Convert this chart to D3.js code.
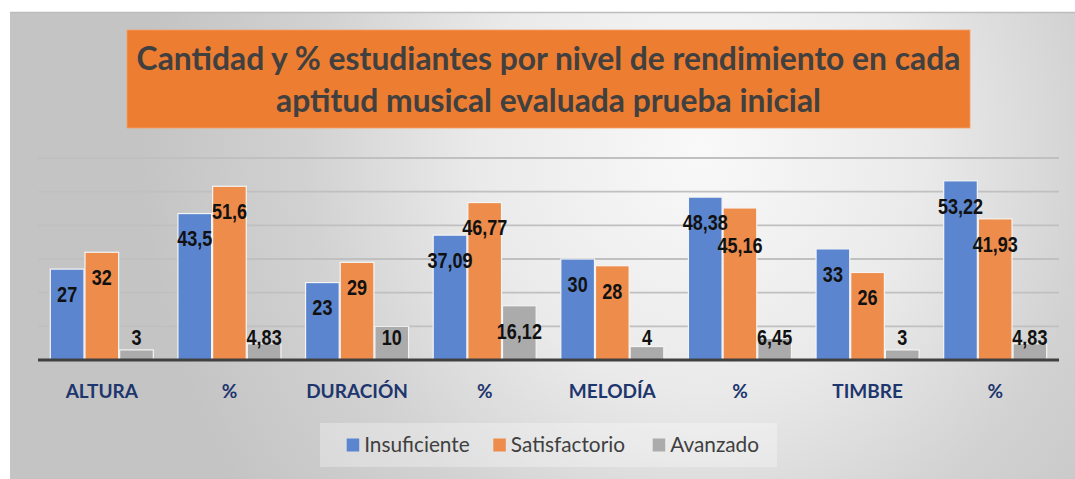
<!DOCTYPE html>
<html><head><meta charset="utf-8">
<script src="https://cdn.jsdelivr.net/npm/d3@7"></script>
<style>html,body{margin:0;padding:0;background:#fff;}svg{display:block;}</style>
</head><body>
<svg id="chart" width="1075" height="479"></svg>
<script>
const categories = ["ALTURA","%","DURACIÓN","%","MELODÍA","%","TIMBRE","%"];
const insuficiente = [27,43.5,23,37.09,30,48.38,33,53.22];
const satisfactorio = [32,51.6,29,46.77,28,45.16,26,41.93];
const avanzado = [3,4.83,10,16.12,4,6.45,3,4.83];
const seriesNames = ["Insuficiente","Satisfactorio","Avanzado"];
const seriesColors = ["#5B86CF","#EE8C4C","#ABABAB"];
const yTicks = [10,20,30,40,50,60];
const titleLines = ["Cantidad y % estudiantes por nivel de rendimiento en cada","aptitud musical evaluada prueba inicial"];

const series = [insuficiente, satisfactorio, avanzado];
const svg = d3.select("#chart");
const W = 1075, H = 479;

// background
const defs = svg.append("defs");
const g = defs.append("radialGradient").attr("id","bg")
  .attr("gradientUnits","userSpaceOnUse").attr("cx",0).attr("cy",0).attr("r",1)
  .attr("gradientTransform","translate(700,150) scale(560,600)");
[[0,"#f9f9f9"],[0.4,"#eaeaea"],[0.7,"#d2d2d2"],[1,"#c4c4c4"]].forEach(s=>
  g.append("stop").attr("offset",s[0]).attr("stop-color",s[1]));
svg.append("rect").attr("x",10).attr("y",12).attr("width",W-10).attr("height",H-12)
  .attr("fill","url(#bg)");
svg.append("line").attr("x1",10).attr("x2",W).attr("y1",12.5).attr("y2",12.5)
  .attr("stroke","#bdbdbd").attr("stroke-width",1.5);

// title
svg.append("rect").attr("x",127).attr("y",30).attr("width",843).attr("height",98)
  .attr("fill","#ED7D31").attr("stroke","#f2a06a").attr("stroke-width",0.8);
const title = svg.append("text").attr("text-anchor","middle")
  .attr("font-family","Lato, 'Open Sans', sans-serif").attr("font-weight","bold")
  .attr("font-size",31.8).attr("fill","#404040");
titleLines.forEach((t,i)=>title.append("tspan").attr("x",548.5).attr("y",70+i*42).text(t));

// scales
const margin = {left:38, right:1059, top:158, bottom:360};
const x0 = d3.scaleBand().domain(d3.range(categories.length))
  .range([margin.left, margin.right]).paddingInner(0.185).paddingOuter(0.0925);
const x1 = d3.scaleBand().domain(d3.range(series.length)).range([0, x0.bandwidth()]);
const y = d3.scaleLinear().domain([0,60]).range([margin.bottom, margin.top]);

// gridlines
svg.append("g").selectAll("line").data(yTicks).join("line")
  .attr("x1",margin.left).attr("x2",margin.right)
  .attr("y1",d=>y(d)).attr("y2",d=>y(d))
  .attr("stroke","#c0c0c0").attr("stroke-width",1.8);

// bars
const bars = svg.append("g");
series.forEach((vals,si)=>{
  bars.selectAll(null).data(vals).join("rect")
    .attr("x",(d,i)=>x0(i)+x1(si)+0.5)
    .attr("y",d=>y(d))
    .attr("width",x1.bandwidth()-1)
    .attr("height",d=>y(0)-y(d))
    .attr("fill",seriesColors[si])
    .attr("stroke","#f4f4f4").attr("stroke-width",1.2);
});

// baseline
svg.append("line").attr("x1",margin.left).attr("x2",margin.right)
  .attr("y1",y(0)).attr("y2",y(0)).attr("stroke","#404040").attr("stroke-width",3);

// data labels (condensed bold)
const fmt = v => String(v).replace(".",",");
const narrow = 0.82;
const lblG = svg.append("g").attr("font-family","'Liberation Sans',Arial,sans-serif")
  .attr("font-weight","bold").attr("font-size",22).attr("fill","#111").attr("text-anchor","middle");
categories.forEach((c,i)=>{
  const placed = [];
  series.forEach((vals,si)=>{
    const v = vals[i];
    const cx = x0(i)+x1(si)+x1.bandwidth()/2;
    let cy = Math.min(y(v)+25, y(0)-23);
    const t = lblG.append("text").attr("x",0).attr("y",0).attr("dy","0.36em").text(fmt(v));
    const w = t.node().getComputedTextLength()*narrow;
    placed.forEach(p=>{
      const hOverlap = Math.abs(p.cx-cx) < (p.w+w)/2;
      if (hOverlap && Math.abs(p.cy-cy) < 22) cy = p.cy + 22.5;
    });
    t.attr("transform",`translate(${cx},${cy}) scale(${narrow},1)`);
    placed.push({cx,cy,w});
  });
});

// category labels
svg.append("g").selectAll("text").data(categories).join("text")
  .attr("x",(d,i)=>x0(i)+x0.bandwidth()/2).attr("y",391.5).attr("dy","0.36em")
  .attr("text-anchor","middle").attr("font-family","Lato, sans-serif").attr("font-weight","bold")
  .attr("font-size",19).attr("fill","#1E366E").text(d=>d);

// legend
svg.append("rect").attr("x",320).attr("y",423).attr("width",457).attr("height",44)
  .attr("fill","#ffffff").attr("fill-opacity",0.3);
const legX = [346.7,493.3,652.7];
const leg = svg.append("g");
seriesNames.forEach((n,i)=>{
  leg.append("rect").attr("x",legX[i]).attr("y",438.5).attr("width",12.5).attr("height",13)
    .attr("fill",seriesColors[i]);
  leg.append("text").attr("x",legX[i]+17.5).attr("y",445).attr("dy","0.36em")
    .attr("font-family","Lato, sans-serif").attr("font-size",20.8).attr("fill","#404040").text(n);
});
</script>
</body></html>
